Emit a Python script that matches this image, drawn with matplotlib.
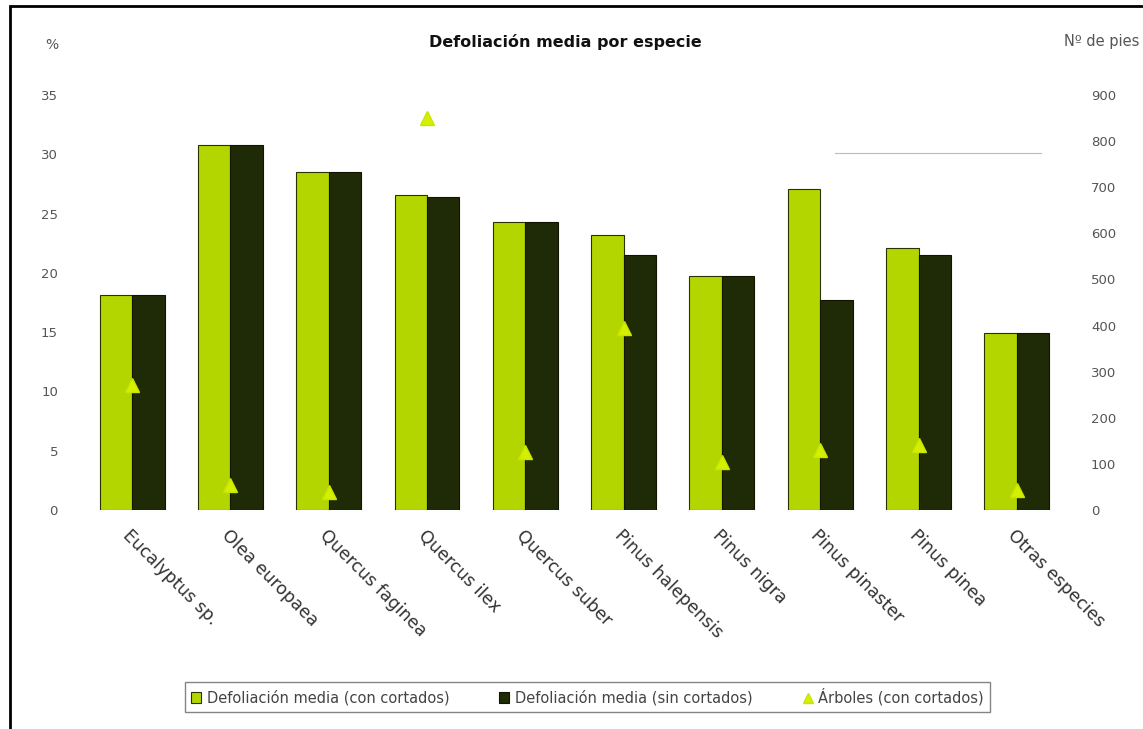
import numpy as np
import matplotlib
matplotlib.use('Agg')
from matplotlib import pyplot as plt
from matplotlib.patches import Rectangle

especies = ['Eucalyptus sp.', 'Olea europaea', 'Quercus faginea', 'Quercus ilex',
            'Quercus suber', 'Pinus halepensis', 'Pinus nigra', 'Pinus pinaster',
            'Pinus pinea', 'Otras especies']
defol_con = [18.1, 30.8, 28.5, 26.6, 24.3, 23.2, 19.7, 27.1, 22.1, 14.9]
defol_sin = [18.1, 30.8, 28.5, 26.4, 24.3, 21.5, 19.7, 17.7, 21.5, 14.9]
arboles_con = [271, 54, 39, 850, 126, 395, 104, 130, 141, 43]

verde = '#b4d600'
oscuro = '#1f2a06'
gris = '#555555'

fig = plt.figure(figsize=(11.43, 7.29), dpi=100)
ax = fig.add_axes([0.0726, 0.3004, 0.86, 0.5693])
ax2 = ax.twinx()

x = np.arange(len(especies))
w = 0.33
ax.bar(x - w / 2, defol_con, w, color=verde, edgecolor='#2a3300', linewidth=0.8,
       label='Defoliación media (con cortados)', zorder=2)
ax.bar(x + w / 2, defol_sin, w, color=oscuro, edgecolor='#111500', linewidth=0.8,
       label='Defoliación media (sin cortados)', zorder=2)
ax2.plot(x, arboles_con, linestyle='none', marker='^', markersize=10,
         color='#d4f000', markeredgecolor='#c6e600', label='Árboles (con cortados)')

ax.set_xlim(-0.5, 9.5)
ax.set_ylim(0, 35)
ax.set_yticks(range(0, 40, 5))
ax2.set_ylim(0, 900)
ax2.set_yticks(range(0, 1000, 100))

for a in (ax, ax2):
    for s in a.spines.values():
        s.set_visible(False)
    a.tick_params(length=0, colors=gris, labelsize=9.5)
ax.tick_params(axis='y', pad=18)
ax2.tick_params(axis='y', pad=18)

ax.set_xticks(x)
ax.set_xticklabels(especies, rotation=-45, ha='left', va='top',
                   rotation_mode='anchor', fontsize=12.5, color='#333333')
ax.tick_params(axis='x', pad=12)

# linea suelta arriba a la derecha
ax.plot([7.15, 9.25], [30.1, 30.1], color='#bbbbbb', linewidth=0.8)

fig.text(0.495, 0.943, 'Defoliación media por especie', ha='center', va='center',
         fontsize=11.5, fontweight='bold', color='#111111')
fig.text(0.045, 0.938, '%', ha='center', va='center', fontsize=10, color=gris)
fig.text(0.997, 0.943, 'Nº de pies', ha='right', va='center', fontsize=10.5, color=gris)

h1, l1 = ax.get_legend_handles_labels()
h2, l2 = ax2.get_legend_handles_labels()
leg = fig.legend(h1 + h2, l1 + l2, loc='center', bbox_to_anchor=(0.514, 0.044),
                 ncol=3, fontsize=10.5, frameon=True, fancybox=False,
                 handlelength=0.7, handletextpad=0.4, columnspacing=3.4,
                 borderpad=0.4, labelcolor='#444444', markerscale=0.7)
leg.get_frame().set_edgecolor('#666666')
leg.get_frame().set_linewidth(1.0)

fig.add_artist(Rectangle((10 / 1143, -0.05), 1.1, 1.05 - 6 / 729,
                         transform=fig.transFigure, fill=False,
                         edgecolor='black', linewidth=2, clip_on=False))

fig.savefig('out.png', dpi=100)
